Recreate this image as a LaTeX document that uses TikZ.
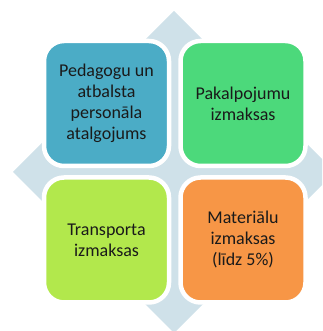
\documentclass[tikz,border=0pt]{standalone}
\usepackage{fontspec}
\setmainfont{Carlito}
\definecolor{diamondc}{HTML}{CFE1E9}
\definecolor{cA}{HTML}{4BACC6}
\definecolor{cB}{HTML}{4CD97B}
\definecolor{cC}{HTML}{B2E84C}
\definecolor{cD}{HTML}{F79646}
\definecolor{txt}{HTML}{1A1A1A}
\begin{document}
\begin{tikzpicture}[x=1pt,y=1pt,
  cell/.style={rectangle, rounded corners=20pt, draw=white, line width=4.5pt,
    minimum width=125pt, minimum height=125pt, align=center, inner sep=0pt,
    font=\fontsize{18}{21}\selectfont, text=txt}]
\useasboundingbox (0,0) rectangle (322,331);
\begin{scope}
  \clip (0,0) rectangle (322,331);
  \fill[diamondc] (174,320) -- (335,159) -- (174,-2) -- (13,159) -- cycle;
\end{scope}
\node[cell, fill=cA] (a) at (106.5,227.5) {Pedagogu un\\atbalsta\\personāla\\atalgojums};
\node[cell, fill=cB] (b) at (243,227.5) {Pakalpojumu\\izmaksas};
\node[cell, fill=cC] (c) at (106.5,91) {Transporta\\izmaksas};
\node[cell, fill=cD] (d) at (243,91) {Materiālu\\izmaksas\\(līdz 5\%)};
\end{tikzpicture}
\end{document}
